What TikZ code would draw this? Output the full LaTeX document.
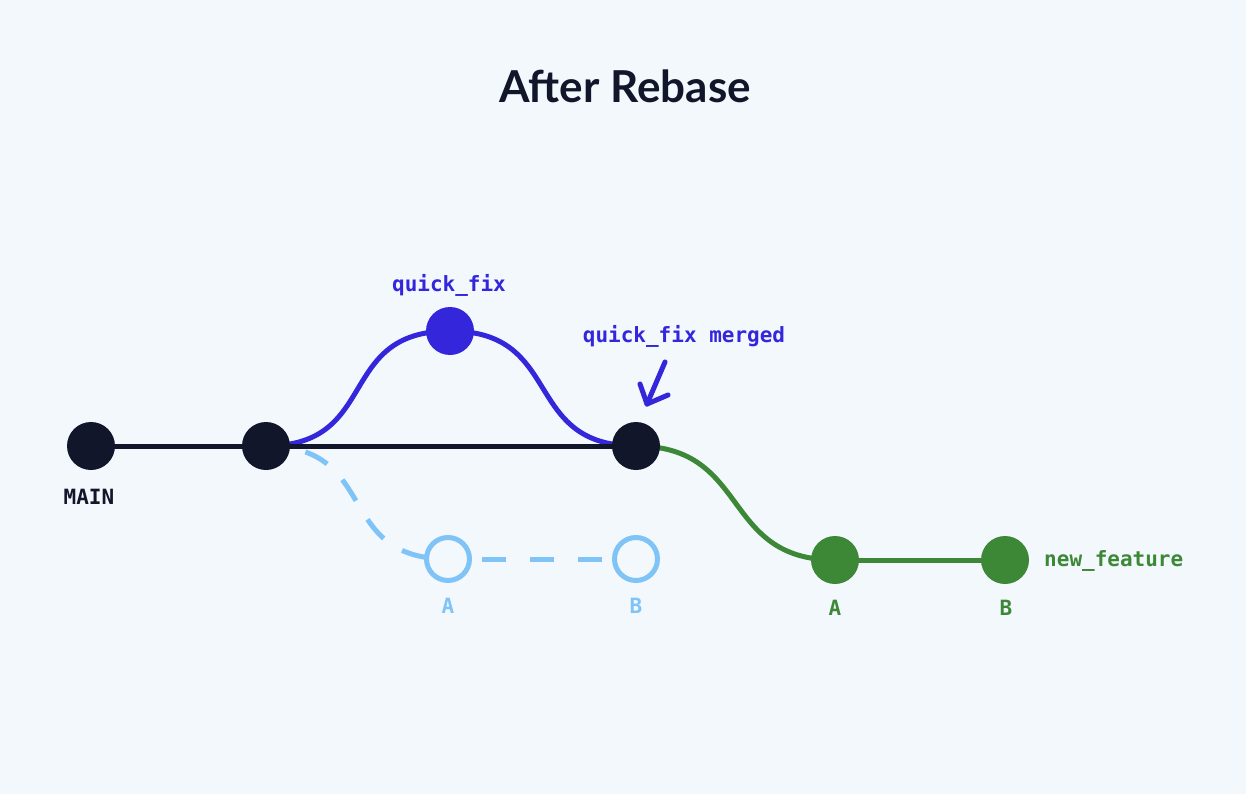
\documentclass[tikz,border=0pt]{standalone}
\usepackage{fontspec}
\setmainfont{Lato}
\newfontfamily\monof{DejaVu Sans Mono}
\definecolor{bgc}{HTML}{F3F8FD}
\definecolor{darkc}{HTML}{12162B}
\definecolor{bluec}{HTML}{3326DB}
\definecolor{lightc}{HTML}{80C4F7}
\definecolor{greenc}{HTML}{3D8837}
\tikzset{
  commit/.style={circle, minimum size=48pt, inner sep=0pt, fill=#1},
  ghost/.style={circle, minimum size=43pt, inner sep=0pt, draw=lightc, line width=5pt, fill=bgc},
  lbl/.style={font=\monof\bfseries\fontsize{21}{24}\selectfont, anchor=base, inner sep=0pt, text=#1},
  branch/.style={line width=5pt, draw=#1},
  ghostline/.style={line width=5pt, draw=lightc},
}
\begin{document}
\begin{tikzpicture}[x=1pt, y=-1pt]
\fill[bgc] (0,0) rectangle (1246,794);
\useasboundingbox (0,0) rectangle (1246,794);

\node[font=\bfseries\fontsize{44}{50}\selectfont, text=darkc, anchor=base, inner sep=0pt] (title) at (625,103) {After Rebase};

% coordinates of commits
\coordinate (pm) at (91,446);
\coordinate (pc) at (266,446);
\coordinate (pq) at (450,331);
\coordinate (pg) at (636,446);
\coordinate (pa) at (448,559);
\coordinate (pb) at (636,559);
\coordinate (pga) at (835,560);
\coordinate (pgb) at (1005,560);

% connectors
\draw[ghostline, dash pattern=on 25 off 22, dash phase=7] (pc) .. controls (381,446) and (333,559) .. (pa);
\draw[ghostline, dash pattern=on 24 off 24, dash phase=14] (pa) -- (pb);
\draw[branch=bluec] (pc) .. controls (381,446) and (335,331) .. (pq);
\draw[branch=bluec] (pq) .. controls (565,331) and (521,446) .. (pg);
\draw[branch=greenc] (pg) .. controls (751,446) and (720,560) .. (pga);
\draw[branch=greenc] (pga) -- (pgb);
\draw[branch=darkc] (pm) -- (pg);

% commits
\node[commit=darkc] (main) at (pm) {};
\node[commit=darkc] (c2) at (pc) {};
\node[commit=bluec] (qf) at (pq) {};
\node[commit=darkc] (merge) at (pg) {};
\node[ghost] (ga) at (pa) {};
\node[ghost] (gb) at (pb) {};
\node[commit=greenc] (fa) at (pga) {};
\node[commit=greenc] (fb) at (pgb) {};

% labels
\node[lbl=bluec] (lqf) at (449,291) {quick\_fix};
\node[lbl=bluec] (lqm) at (684,342) {quick\_fix merged};
\node[lbl=darkc] (lmain) at (89,504) {MAIN};
\node[lbl=lightc] (lga) at (448,613) {A};
\node[lbl=lightc] (lgb) at (636,613) {B};
\node[lbl=greenc] (lfa) at (835,615) {A};
\node[lbl=greenc] (lfb) at (1006,615) {B};
\node[lbl=greenc, anchor=base west] (lnf) at (1044,566) {new\_feature};

% arrow
\coordinate (as) at (665,362);
\coordinate (at) at (647,404);
\coordinate (al) at (640,384);
\coordinate (ar) at (668,395);
\draw[bluec, line width=5pt, line cap=round, line join=round] (as) -- (at);
\draw[bluec, line width=5pt, line cap=round, line join=round] (al) -- (at) -- (ar);
\end{tikzpicture}
\end{document}
